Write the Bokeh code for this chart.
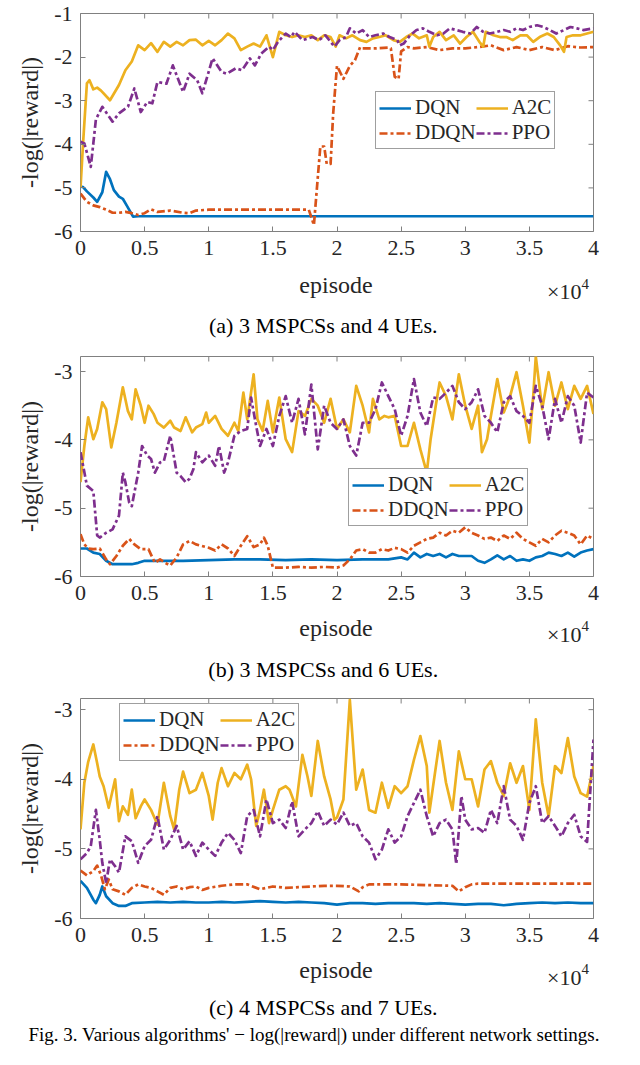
from bokeh.plotting import figure
from bokeh.models import Range1d, Legend, LegendItem, FixedTicker
from bokeh.core.properties import value
from bokeh.layouts import column
from bokeh.embed import file_html
from bokeh.resources import INLINE
import math

FONT = "Liberation Serif"
SERIES = ["DQN", "DDQN", "A2C", "PPO"]
COLORS = {"DQN": "#0072BD", "DDQN": "#D95319", "A2C": "#EDB120", "PPO": "#7E2F8E"}
DASH = {"DQN": "solid", "DDQN": "8 3 3 3", "A2C": "solid", "PPO": "8 3 3 3"}

x_ticks = [0, 0.5, 1, 1.5, 2, 2.5, 3, 3.5, 4]
x_tick_labels = ["0", "0.5", "1", "1.5", "2", "2.5", "3", "3.5", "4"]
y_ticks = [-6, -5, -4, -3, -2, -1]
y_tick_labels = ["-6", "-5", "-4", "-3", "-2", "-1"]

captions = ["(a)  3 MSPCSs and 4 UEs.", "(b)  3 MSPCSs and 6 UEs.", "(c)  4 MSPCSs and 7 UEs."]
fig_caption = "Fig. 3.  Various algorithms' \u2212 log(|reward|) under different network settings."

# ---------- (a) 3 MSPCSs and 4 UEs (x in 1e4 episodes) ----------
A_DQN = [(0, -4.97), (0.02, -4.98), (0.05, -5.08), (0.1, -5.22), (0.13, -5.32), (0.17, -5.1),
         (0.2, -4.63), (0.23, -4.8), (0.26, -5.05), (0.3, -5.2), (0.33, -5.25), (0.36, -5.4),
         (0.41, -5.66), (0.45, -5.65), (1.0, -5.65), (2.0, -5.65), (3.0, -5.65), (4.0, -5.65)]
A_DDQN = [(0, -5.13), (0.05, -5.32), (0.1, -5.4), (0.15, -5.44), (0.2, -5.5), (0.25, -5.57),
          (0.3, -5.57), (0.35, -5.55), (0.4, -5.58), (0.45, -5.62), (0.5, -5.58), (0.55, -5.49),
          (0.6, -5.55), (0.7, -5.52), (0.8, -5.57), (0.85, -5.58), (0.9, -5.52), (1.0, -5.5),
          (1.78, -5.5), (1.82, -5.85), (1.87, -4.05), (1.9, -4.05), (1.92, -4.45), (1.95, -4.45),
          (1.97, -3.3), (2.0, -2.2), (2.05, -2.5), (2.1, -2.2), (2.14, -2.07), (2.18, -1.77),
          (2.2, -1.8), (2.3, -1.8), (2.4, -1.78), (2.42, -1.8), (2.45, -2.45), (2.48, -2.5),
          (2.5, -1.87), (2.55, -1.77), (2.6, -1.8), (2.7, -1.77), (2.8, -1.84), (2.9, -1.8),
          (3.0, -1.8), (3.1, -1.77), (3.2, -1.73), (3.3, -1.84), (3.4, -1.77), (3.5, -1.84),
          (3.6, -1.77), (3.7, -1.84), (3.8, -1.75), (3.9, -1.78), (4.0, -1.77)]
A_A2C = [(0, -5.0), (0.02, -3.98), (0.05, -2.6), (0.07, -2.53), (0.1, -2.74), (0.13, -2.7),
         (0.16, -2.77), (0.23, -2.99), (0.3, -2.64), (0.35, -2.3), (0.4, -2.1), (0.45, -1.73),
         (0.5, -1.84), (0.55, -1.68), (0.6, -1.88), (0.65, -1.65), (0.7, -1.76), (0.75, -1.65),
         (0.8, -1.73), (0.85, -1.61), (0.9, -1.6), (0.95, -1.73), (1.0, -1.63), (1.05, -1.73),
         (1.1, -1.61), (1.15, -1.46), (1.2, -1.57), (1.25, -1.84), (1.3, -1.76), (1.35, -1.69),
         (1.4, -1.76), (1.45, -1.5), (1.5, -2.0), (1.55, -1.42), (1.6, -1.5), (1.65, -1.54),
         (1.7, -1.5), (1.75, -1.54), (1.8, -1.5), (1.85, -1.61), (1.9, -1.5), (1.95, -1.54),
         (1.99, -1.76), (2.02, -1.5), (2.07, -1.57), (2.12, -1.5), (2.18, -1.61), (2.23, -1.65),
         (2.28, -1.57), (2.33, -1.54), (2.38, -1.5), (2.44, -1.61), (2.49, -1.65), (2.54, -1.54),
         (2.59, -1.46), (2.64, -1.57), (2.7, -1.5), (2.72, -1.76), (2.75, -1.54), (2.8, -1.42),
         (2.85, -1.61), (2.91, -1.5), (2.96, -1.69), (3.01, -1.54), (3.06, -1.42), (3.11, -1.65),
         (3.14, -1.76), (3.16, -1.42), (3.22, -1.5), (3.27, -1.54), (3.32, -1.54), (3.37, -1.61),
         (3.43, -1.5), (3.48, -1.5), (3.53, -1.65), (3.58, -1.54), (3.64, -1.46), (3.69, -1.54),
         (3.74, -1.73), (3.77, -1.88), (3.79, -1.54), (3.84, -1.5), (3.9, -1.5), (3.95, -1.46),
         (4.0, -1.42)]
A_PPO = [(0, -3.94), (0.03, -3.98), (0.06, -4.3), (0.08, -4.52), (0.1, -3.98), (0.12, -3.43),
         (0.17, -3.14), (0.25, -3.48), (0.3, -3.29), (0.37, -3.14), (0.42, -2.72), (0.47, -3.26),
         (0.52, -3.03), (0.56, -3.06), (0.6, -2.57), (0.67, -2.61), (0.72, -2.19), (0.8, -2.8),
         (0.85, -2.38), (0.91, -2.53), (0.95, -2.83), (1.03, -2.03), (1.1, -2.34), (1.14, -2.38),
         (1.21, -2.26), (1.26, -2.3), (1.32, -2.03), (1.36, -2.19), (1.41, -1.92), (1.47, -1.76),
         (1.5, -1.84), (1.54, -1.65), (1.6, -1.46), (1.64, -1.54), (1.67, -1.42), (1.73, -1.61),
         (1.81, -1.54), (1.86, -1.61), (1.91, -1.5), (1.98, -1.76), (2.02, -1.61), (2.07, -1.54),
         (2.1, -1.34), (2.15, -1.46), (2.2, -1.38), (2.25, -1.54), (2.3, -1.5), (2.36, -1.46),
         (2.41, -1.54), (2.47, -1.61), (2.49, -1.73), (2.52, -1.69), (2.57, -1.5), (2.62, -1.38),
         (2.67, -1.34), (2.72, -1.42), (2.78, -1.5), (2.83, -1.46), (2.88, -1.34), (2.93, -1.38),
         (2.98, -1.42), (3.04, -1.46), (3.09, -1.31), (3.14, -1.42), (3.19, -1.46), (3.25, -1.42),
         (3.3, -1.38), (3.35, -1.42), (3.4, -1.34), (3.45, -1.38), (3.5, -1.31), (3.56, -1.27),
         (3.61, -1.31), (3.66, -1.38), (3.71, -1.46), (3.77, -1.38), (3.82, -1.31), (3.87, -1.34),
         (3.92, -1.38), (4.0, -1.34)]

# ---------- (b) 3 MSPCSs and 6 UEs ----------
B_DQN = [(0, -5.59), (0.05, -5.59), (0.1, -5.65), (0.15, -5.67), (0.2, -5.77), (0.25, -5.82),
         (0.3, -5.82), (0.4, -5.82), (0.45, -5.8), (0.5, -5.77), (0.6, -5.77), (0.8, -5.77),
         (1.0, -5.76), (1.2, -5.75), (1.4, -5.75), (1.6, -5.76), (1.8, -5.75), (2.0, -5.76),
         (2.2, -5.75), (2.4, -5.75), (2.5, -5.72), (2.55, -5.75), (2.6, -5.65), (2.65, -5.72),
         (2.7, -5.67), (2.75, -5.7), (2.8, -5.67), (2.85, -5.72), (2.9, -5.67), (2.95, -5.7),
         (3.0, -5.7), (3.05, -5.7), (3.1, -5.77), (3.15, -5.8), (3.2, -5.75), (3.25, -5.69),
         (3.3, -5.75), (3.35, -5.7), (3.4, -5.77), (3.45, -5.75), (3.5, -5.77), (3.55, -5.72),
         (3.6, -5.7), (3.65, -5.65), (3.7, -5.67), (3.75, -5.7), (3.8, -5.65), (3.85, -5.71),
         (3.9, -5.65), (3.95, -5.62), (4.0, -5.6)]
B_DDQN = [(0, -5.38), (0.03, -5.53), (0.06, -5.59), (0.1, -5.6), (0.15, -5.59), (0.2, -5.75),
          (0.23, -5.82), (0.28, -5.7), (0.33, -5.55), (0.38, -5.45), (0.42, -5.53), (0.47, -5.6),
          (0.53, -5.6), (0.58, -5.8), (0.62, -5.75), (0.66, -5.8), (0.7, -5.84), (0.75, -5.72),
          (0.8, -5.53), (0.85, -5.48), (0.9, -5.53), (1.0, -5.58), (1.05, -5.62), (1.1, -5.53),
          (1.15, -5.59), (1.2, -5.7), (1.25, -5.55), (1.3, -5.41), (1.35, -5.57), (1.4, -5.53),
          (1.43, -5.43), (1.46, -5.55), (1.5, -5.87), (1.6, -5.87), (1.7, -5.86), (1.8, -5.87),
          (1.9, -5.86), (2.0, -5.87), (2.05, -5.84), (2.1, -5.75), (2.15, -5.62), (2.2, -5.6),
          (2.25, -5.65), (2.3, -5.65), (2.35, -5.6), (2.4, -5.62), (2.45, -5.58), (2.5, -5.6),
          (2.55, -5.65), (2.6, -5.55), (2.65, -5.5), (2.7, -5.45), (2.75, -5.43), (2.8, -5.36),
          (2.85, -5.4), (2.9, -5.33), (2.95, -5.36), (3.0, -5.28), (3.05, -5.36), (3.1, -5.4),
          (3.15, -5.45), (3.2, -5.43), (3.25, -5.48), (3.3, -5.4), (3.35, -5.45), (3.4, -5.36),
          (3.45, -5.45), (3.5, -5.5), (3.55, -5.55), (3.6, -5.45), (3.65, -5.5), (3.7, -5.4),
          (3.75, -5.33), (3.8, -5.36), (3.85, -5.4), (3.9, -5.53), (3.95, -5.4), (4.0, -5.45)]
B_A2C = [(0, -4.62), (0.03, -4.09), (0.06, -3.67), (0.1, -3.99), (0.13, -3.84), (0.17, -3.45),
         (0.2, -3.55), (0.24, -4.11), (0.28, -3.75), (0.33, -3.23), (0.37, -3.58), (0.4, -3.7),
         (0.43, -3.26), (0.47, -3.5), (0.5, -3.75), (0.53, -3.5), (0.57, -3.62), (0.6, -3.75),
         (0.65, -3.82), (0.7, -3.72), (0.73, -3.82), (0.78, -3.87), (0.82, -3.67), (0.87, -3.89),
         (0.9, -3.82), (0.95, -3.77), (0.98, -3.6), (1.0, -3.75), (1.05, -3.65), (1.1, -3.84),
         (1.15, -3.94), (1.2, -3.75), (1.23, -3.87), (1.27, -3.31), (1.3, -3.7), (1.35, -3.04),
         (1.38, -3.7), (1.42, -3.87), (1.46, -3.43), (1.5, -3.89), (1.55, -3.38), (1.6, -3.99),
         (1.65, -4.18), (1.7, -3.58), (1.75, -3.65), (1.8, -3.4), (1.85, -3.5), (1.9, -3.75),
         (1.95, -3.4), (2.0, -3.84), (2.05, -3.7), (2.1, -3.89), (2.15, -3.21), (2.2, -3.5),
         (2.25, -3.89), (2.28, -3.4), (2.33, -3.7), (2.37, -3.65), (2.4, -3.67), (2.45, -3.65),
         (2.5, -4.09), (2.55, -4.09), (2.6, -3.75), (2.65, -4.14), (2.7, -4.48), (2.73, -3.99),
         (2.77, -3.5), (2.8, -3.16), (2.85, -3.36), (2.9, -3.7), (2.95, -3.04), (3.0, -3.5),
         (3.05, -3.84), (3.1, -3.5), (3.13, -4.18), (3.17, -3.99), (3.2, -3.65), (3.25, -3.11),
         (3.3, -3.6), (3.35, -3.36), (3.4, -3.01), (3.45, -3.5), (3.5, -4.04), (3.53, -3.36),
         (3.55, -2.78), (3.6, -3.55), (3.65, -3.01), (3.7, -3.5), (3.75, -3.16), (3.8, -3.55),
         (3.85, -3.21), (3.9, -3.4), (3.95, -3.21), (4.0, -3.62)]
B_PPO = [(0, -4.18), (0.05, -4.67), (0.1, -4.75), (0.13, -5.4), (0.15, -5.43), (0.2, -5.36),
         (0.25, -5.31), (0.3, -5.11), (0.33, -4.48), (0.35, -4.62), (0.38, -4.92), (0.4, -4.97),
         (0.45, -4.48), (0.48, -4.09), (0.52, -4.23), (0.55, -4.28), (0.58, -4.48), (0.62, -4.33),
         (0.65, -4.31), (0.7, -3.94), (0.75, -4.48), (0.78, -4.53), (0.82, -4.62), (0.85, -4.57),
         (0.88, -4.43), (0.9, -4.18), (0.95, -4.33), (1.0, -4.23), (1.05, -4.38), (1.08, -4.09),
         (1.12, -4.48), (1.15, -4.33), (1.2, -3.94), (1.25, -3.87), (1.3, -3.84), (1.33, -3.38),
         (1.37, -3.8), (1.4, -4.09), (1.45, -3.84), (1.5, -4.09), (1.55, -3.65), (1.6, -3.36),
         (1.65, -3.75), (1.7, -3.4), (1.75, -3.92), (1.8, -3.19), (1.85, -4.14), (1.9, -3.5),
         (1.95, -3.75), (2.0, -3.84), (2.05, -3.7), (2.1, -4.09), (2.15, -4.23), (2.2, -3.75),
         (2.25, -3.75), (2.3, -3.55), (2.35, -3.16), (2.4, -3.36), (2.45, -3.55), (2.5, -3.94),
         (2.55, -3.65), (2.6, -3.11), (2.65, -3.6), (2.7, -3.8), (2.75, -3.38), (2.8, -3.4),
         (2.85, -3.31), (2.9, -3.21), (2.95, -3.45), (3.0, -3.55), (3.05, -3.45), (3.1, -3.26),
         (3.15, -3.65), (3.2, -3.75), (3.25, -3.89), (3.3, -3.45), (3.35, -3.36), (3.4, -3.58),
         (3.45, -3.65), (3.5, -3.75), (3.55, -3.21), (3.6, -3.5), (3.65, -3.99), (3.7, -3.4),
         (3.75, -3.75), (3.8, -3.36), (3.85, -3.5), (3.9, -4.04), (3.95, -3.31), (4.0, -3.38)]

# ---------- (c) 4 MSPCSs and 7 UEs ----------
C_DQN = [(0, -5.46), (0.05, -5.56), (0.1, -5.73), (0.12, -5.78), (0.15, -5.66), (0.17, -5.54),
         (0.2, -5.68), (0.25, -5.78), (0.3, -5.82), (0.35, -5.82), (0.4, -5.78), (0.5, -5.77),
         (0.6, -5.76), (0.7, -5.77), (0.8, -5.76), (0.9, -5.77), (1.0, -5.77), (1.1, -5.76),
         (1.2, -5.77), (1.3, -5.76), (1.4, -5.75), (1.5, -5.76), (1.6, -5.77), (1.7, -5.76),
         (1.8, -5.77), (1.9, -5.78), (2.0, -5.8), (2.1, -5.78), (2.2, -5.78), (2.3, -5.79),
         (2.4, -5.78), (2.5, -5.78), (2.6, -5.78), (2.7, -5.79), (2.8, -5.78), (2.9, -5.79),
         (3.0, -5.8), (3.1, -5.79), (3.2, -5.79), (3.3, -5.81), (3.4, -5.79), (3.5, -5.78),
         (3.6, -5.77), (3.7, -5.78), (3.8, -5.77), (3.9, -5.78), (4.0, -5.78)]
C_DDQN = [(0, -5.31), (0.05, -5.38), (0.1, -5.32), (0.13, -5.24), (0.16, -5.38), (0.19, -5.58),
          (0.22, -5.44), (0.25, -5.58), (0.3, -5.61), (0.35, -5.66), (0.4, -5.56), (0.45, -5.51),
          (0.5, -5.54), (0.55, -5.56), (0.6, -5.61), (0.65, -5.66), (0.7, -5.56), (0.75, -5.54),
          (0.8, -5.58), (0.85, -5.55), (0.9, -5.54), (0.95, -5.59), (1.0, -5.56), (1.1, -5.53),
          (1.2, -5.51), (1.3, -5.51), (1.4, -5.58), (1.5, -5.54), (1.6, -5.56), (1.7, -5.55),
          (1.8, -5.54), (1.9, -5.53), (2.0, -5.53), (2.1, -5.54), (2.17, -5.61), (2.2, -5.55),
          (2.25, -5.51), (2.5, -5.51), (2.9, -5.53), (2.95, -5.61), (3.0, -5.55), (3.05, -5.51),
          (3.1, -5.5), (4.0, -5.5)]
C_A2C = [(0, -4.72), (0.03, -4.05), (0.06, -3.75), (0.1, -3.5), (0.13, -3.77), (0.15, -3.96),
         (0.18, -4.1), (0.22, -4.41), (0.27, -4.0), (0.3, -4.6), (0.33, -4.39), (0.37, -4.51),
         (0.4, -4.15), (0.43, -4.56), (0.47, -4.39), (0.5, -4.29), (0.55, -4.44), (0.6, -4.65),
         (0.65, -4.05), (0.7, -4.53), (0.73, -4.72), (0.77, -4.15), (0.8, -3.89), (0.85, -4.2),
         (0.9, -4.15), (0.95, -3.91), (1.0, -4.24), (1.03, -4.58), (1.07, -4.05), (1.1, -3.84),
         (1.15, -4.1), (1.2, -3.91), (1.25, -4.0), (1.3, -3.79), (1.33, -4.0), (1.37, -4.67),
         (1.4, -4.44), (1.43, -4.15), (1.47, -4.63), (1.5, -4.44), (1.55, -4.15), (1.6, -4.1),
         (1.63, -4.15), (1.68, -4.39), (1.73, -3.65), (1.77, -3.96), (1.8, -4.24), (1.85, -3.45),
         (1.9, -3.96), (1.95, -4.29), (1.98, -4.58), (2.0, -4.55), (2.05, -4.29), (2.1, -2.86),
         (2.15, -4.15), (2.2, -3.86), (2.25, -4.44), (2.3, -4.48), (2.35, -4.05), (2.4, -4.41),
         (2.45, -4.1), (2.5, -4.2), (2.55, -4.1), (2.6, -3.72), (2.65, -3.38), (2.7, -3.81),
         (2.72, -4.48), (2.76, -3.96), (2.8, -3.45), (2.85, -4.05), (2.9, -4.44), (2.95, -3.6),
         (3.0, -4.0), (3.05, -4.0), (3.1, -4.39), (3.15, -3.86), (3.2, -3.74), (3.25, -4.05),
         (3.3, -4.24), (3.35, -3.77), (3.4, -4.05), (3.45, -3.81), (3.5, -4.44), (3.55, -3.14),
         (3.6, -4.05), (3.65, -4.53), (3.7, -3.81), (3.75, -3.91), (3.8, -3.41), (3.85, -3.96),
         (3.9, -4.2), (3.95, -4.25), (4.0, -3.81)]
C_PPO = [(0, -5.15), (0.05, -5.06), (0.08, -4.96), (0.12, -4.44), (0.15, -4.87), (0.17, -5.2),
         (0.2, -5.49), (0.23, -5.15), (0.27, -5.25), (0.3, -5.34), (0.35, -4.82), (0.4, -4.89),
         (0.45, -5.2), (0.5, -4.96), (0.55, -4.87), (0.6, -4.53), (0.65, -5.01), (0.7, -4.87),
         (0.75, -4.67), (0.8, -5.01), (0.85, -4.89), (0.9, -5.1), (0.95, -4.91), (1.0, -5.01),
         (1.05, -5.1), (1.1, -4.91), (1.15, -4.77), (1.2, -4.87), (1.25, -5.06), (1.3, -4.53),
         (1.35, -4.44), (1.4, -4.82), (1.45, -4.29), (1.5, -4.63), (1.55, -4.58), (1.6, -4.7),
         (1.65, -4.32), (1.7, -4.82), (1.75, -4.72), (1.8, -4.63), (1.85, -4.46), (1.9, -4.67),
         (1.95, -4.58), (2.0, -4.65), (2.05, -4.48), (2.1, -4.67), (2.15, -4.63), (2.2, -4.82),
         (2.25, -4.91), (2.3, -5.15), (2.35, -5.01), (2.4, -4.72), (2.45, -4.91), (2.5, -4.82),
         (2.55, -4.53), (2.6, -4.34), (2.65, -4.15), (2.7, -4.53), (2.75, -4.82), (2.8, -4.63),
         (2.85, -4.58), (2.9, -4.72), (2.93, -5.22), (2.97, -4.24), (3.0, -4.58), (3.05, -4.72),
         (3.1, -4.7), (3.15, -4.77), (3.2, -4.44), (3.25, -4.63), (3.3, -4.1), (3.35, -4.58),
         (3.4, -4.67), (3.45, -4.87), (3.5, -4.34), (3.55, -4.1), (3.6, -4.63), (3.65, -4.53),
         (3.7, -4.67), (3.75, -4.82), (3.8, -4.63), (3.85, -4.51), (3.9, -4.82), (3.95, -4.9),
         (4.0, -3.43)]

# layout (pixels): plot figure, then a text strip under it
PANELS = [
    dict(data={"DQN": A_DQN, "DDQN": A_DDQN, "A2C": A_A2C, "PPO": A_PPO}, ymax=-1.0,
         top=13, frame=218, strip=79, legend=(295, 82),
         ep_y=19, x10_y=26, sup_y=18, cap_y=60),
    dict(data={"DQN": B_DQN, "DDQN": B_DDQN, "A2C": B_A2C, "PPO": B_PPO}, ymax=-2.78,
         top=12, frame=220, strip=72, legend=(268, 50),
         ep_y=17, x10_y=24, sup_y=15, cap_y=59),
    dict(data={"DQN": C_DQN, "DDQN": C_DDQN, "A2C": C_A2C, "PPO": C_PPO}, ymax=-2.84,
         top=16, frame=220, strip=97, legend=(39, 157),
         ep_y=17, x10_y=25, sup_y=16, cap_y=55),
]
BOTTOM = 34
W = 624
LEFT = 80
RIGHT = 31

AX = "#808080"
TXT = "#262626"


def style_axis(ax, ticks, labels):
    ax.ticker = FixedTicker(ticks=ticks)
    ax.major_label_overrides = {t: l for t, l in zip(ticks, labels)}
    ax.axis_line_color = None
    ax.major_tick_in = 5
    ax.major_tick_out = 0
    ax.major_tick_line_color = AX
    ax.minor_tick_line_color = None
    ax.major_label_text_font = FONT
    ax.major_label_text_color = TXT
    ax.major_label_text_font_size = "22px"


parts = []
for i, cfg in enumerate(PANELS):
    ymax = cfg["ymax"]
    h = cfg["top"] + cfg["frame"] + BOTTOM
    p = figure(width=W, height=h, x_range=Range1d(0, 4), y_range=Range1d(-6, ymax),
               output_backend="svg", toolbar_location=None,
               min_border_left=LEFT, min_border_right=RIGHT,
               min_border_top=cfg["top"], min_border_bottom=BOTTOM)
    p.grid.visible = False
    p.outline_line_color = AX
    p.outline_line_width = 1

    style_axis(p.xaxis[0], x_ticks, x_tick_labels)
    style_axis(p.yaxis[0], y_ticks, y_tick_labels)
    p.xaxis[0].major_label_standoff = 9
    p.yaxis[0].major_label_standoff = 8
    p.yaxis[0].axis_label = "-log(|reward|)"
    p.yaxis[0].axis_label_text_font = FONT
    p.yaxis[0].axis_label_text_font_size = "24px"
    p.yaxis[0].axis_label_text_font_style = "normal"
    p.yaxis[0].axis_label_text_color = TXT
    p.yaxis[0].axis_label_standoff = 8

    # box ticks on top and right edges (MATLAB "box on")
    yt_in = [t for t in y_ticks if t <= ymax]
    p.ray(x=x_ticks, y=[ymax] * len(x_ticks), length=5, length_units="screen",
          angle=-math.pi / 2, line_color=AX, line_width=1)
    p.ray(x=[4] * len(yt_in), y=yt_in, length=5, length_units="screen",
          angle=math.pi, line_color=AX, line_width=1)

    items = []
    for name in SERIES:
        pts = cfg["data"][name]
        xs = [a for a, b in pts]
        ys = [b for a, b in pts]
        r = p.line(xs, ys, line_color=COLORS[name], line_width=2.7, line_dash=DASH[name],
                   line_join="round")
        items.append(LegendItem(label=name, renderers=[r]))

    leg = Legend(items=items, location=cfg["legend"], nrows=2,
                 label_text_font=FONT, label_text_font_size="21px", label_text_color=TXT,
                 glyph_width=32, glyph_height=16, label_height=16, label_standoff=4,
                 padding=3, spacing=0, margin=0, border_line_color="#404040",
                 border_line_width=1, background_fill_alpha=1.0)
    p.add_layout(leg)
    parts.append(p)

    # text strip below the axes: x label, x10^4 multiplier, sub-caption
    sh = cfg["strip"]
    s = figure(width=W, height=sh, x_range=Range1d(0, W), y_range=Range1d(sh, 0),
               output_backend="svg", toolbar_location=None,
               min_border_left=0, min_border_right=0, min_border_top=0, min_border_bottom=0,
               x_axis_location=None, y_axis_location=None, frame_align=False)
    s.grid.visible = False
    s.outline_line_color = None
    frame_r = W - RIGHT
    frame_c = (LEFT + frame_r) / 2
    s.text(x=[frame_c - 1], y=[cfg["ep_y"]], text=["episode"], text_font=value(FONT),
           text_font_size=value("24px"), text_align="center", text_baseline="middle",
           text_color=TXT)
    s.text(x=[frame_r - 12], y=[cfg["x10_y"]], text=["\u00d710"], text_font=value(FONT),
           text_font_size=value("22px"), text_align="right", text_baseline="middle",
           text_color=TXT)
    s.text(x=[frame_r - 12], y=[cfg["sup_y"]], text=["4"], text_font=value(FONT),
           text_font_size=value("15px"), text_align="left", text_baseline="middle",
           text_color=TXT)
    s.text(x=[frame_c - 11], y=[cfg["cap_y"]], text=[captions[i]], text_font=value(FONT),
           text_font_size=value("22px"), text_align="center", text_baseline="middle",
           text_color="black")
    if i == 2:
        s.text(x=[W / 2 + 4], y=[82], text=[fig_caption], text_font=value(FONT),
               text_font_size=value("19px"), text_align="center",
               text_baseline="middle", text_color="black")
    parts.append(s)

layout = column(*parts, spacing=0)
open("out.html", "w").write(file_html(layout, INLINE))
